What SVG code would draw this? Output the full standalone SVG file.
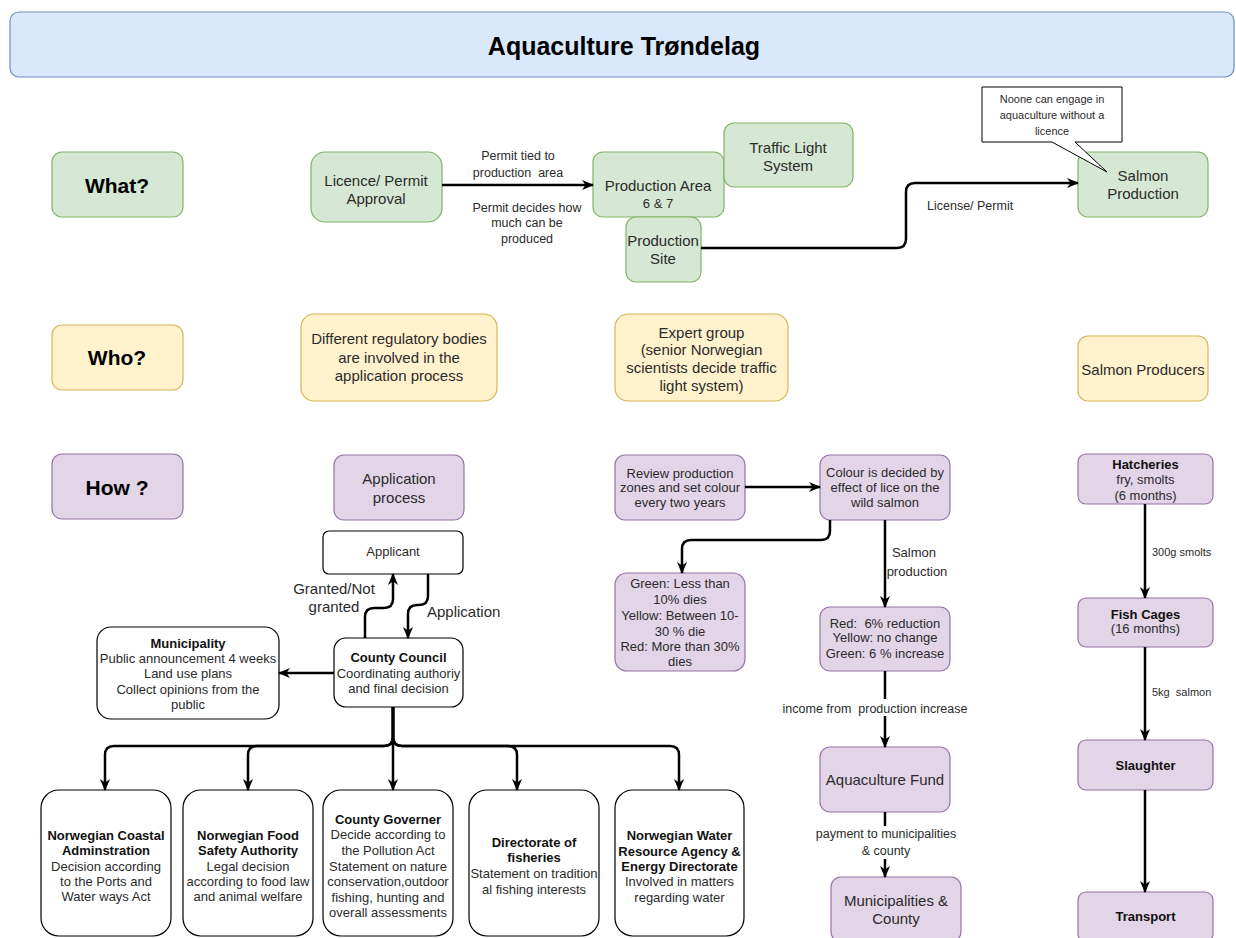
<svg xmlns="http://www.w3.org/2000/svg" width="1236" height="938" viewBox="0 0 1236 938">
<defs>
<marker id="arr" viewBox="0 0 12 12" refX="11" refY="6" markerWidth="12" markerHeight="12" markerUnits="userSpaceOnUse" orient="auto">
<path d="M0,1 L12,6 L0,11 L3.5,6 Z" fill="#000"/>
</marker>
<style>
text{font-family:"Liberation Sans",Arial,sans-serif;fill:#2b2b2b;text-anchor:middle}
.g{fill:#d5e8d4;stroke:#82b366;stroke-width:1.2}
.y{fill:#fff2cc;stroke:#d6b656;stroke-width:1.2}
.p{fill:#e1d5e7;stroke:#9673a6;stroke-width:1.2}
.w{fill:#fff;stroke:#000;stroke-width:1.2}
.t15{font-size:15px}
.t13{font-size:13px}
.t12{font-size:12.5px}
.t11{font-size:11px}
.b{font-weight:bold;fill:#111}
.h{font-size:21px;font-weight:bold;fill:#000}
.c{fill:none;stroke:#000;stroke-width:2.5}
.ca{fill:none;stroke:#000;stroke-width:2.5;marker-end:url(#arr)}
.s{text-anchor:start}
</style>
</defs>
<g id="title">
<rect x="10" y="12" width="1224" height="65" rx="9" fill="#dae8fc" stroke="#6c8ebf" stroke-width="1.2"/>
<text x="624" y="55" style="font-size:25px;font-weight:bold;fill:#000">Aquaculture Trøndelag</text>
</g>
<g id="what"><rect class="g" x="52" y="152" width="131" height="65" rx="10"/><text class="h" x="117" y="192.5">What?</text></g>
<g id="who"><rect class="y" x="52" y="325" width="131" height="65" rx="10"/><text class="h" x="117" y="365">Who?</text></g>
<g id="how"><rect class="p" x="52" y="454" width="131" height="65" rx="10"/><text class="h" x="117" y="494.5">How ?</text></g>

<g id="licence"><rect class="g" x="311" y="152" width="131" height="70" rx="14"/><text class="t15" x="376" y="185.5">Licence/ Permit</text><text class="t15" x="376" y="203.5">Approval</text></g>
<g id="prodarea"><rect class="g" x="593" y="152" width="131" height="65" rx="10"/><text class="t15" x="658" y="190.5">Production Area</text><text class="t13" x="658" y="207.5">6 &amp; 7</text></g>
<g id="traffic"><rect class="g" x="724" y="123" width="129" height="64" rx="10"/><text class="t15" x="788" y="152.5">Traffic Light</text><text class="t15" x="788" y="170.5">System</text></g>
<g id="prodsite"><rect class="g" x="626" y="217" width="75" height="65" rx="10"/><text class="t15" x="663" y="245.5">Production</text><text class="t15" x="663" y="263.5">Site</text></g>
<g id="salmonprod"><rect class="g" x="1078" y="152" width="130" height="65" rx="10"/><text class="t15" x="1143" y="180.5">Salmon</text><text class="t15" x="1143" y="198.5">Production</text></g>
<g id="callout"><path d="M982,87 H1122 V142 H1075 L1107,172 L1052,142 H982 Z" fill="#fff" stroke="#000" stroke-width="1"/><text class="t11" x="1052" y="103">Noone can engage in</text><text class="t11" x="1052" y="119">aquaculture without a</text><text class="t11" x="1052" y="135">licence</text></g>

<g id="regbodies"><rect class="y" x="301" y="314" width="196" height="87" rx="13"/><text class="t15" x="399" y="344">Different regulatory bodies</text><text class="t15" x="399" y="362.5">are involved in the</text><text class="t15" x="399" y="381">application process</text></g>
<g id="expert"><rect class="y" x="615" y="314" width="173" height="87" rx="13"/><text class="t15" x="701.5" y="337.5">Expert group</text><text class="t15" x="701.5" y="354.5">(senior Norwegian</text><text class="t15" x="701.5" y="372.5">scientists decide traffic</text><text class="t15" x="701.5" y="390.5">light system)</text></g>
<g id="producers"><rect class="y" x="1078" y="336" width="130" height="65" rx="10"/><text class="t15" x="1143" y="374.5">Salmon Producers</text></g>

<g id="appprocess"><rect class="p" x="334" y="455" width="130" height="65" rx="10"/><text class="t15" x="399" y="483.5">Application</text><text class="t15" x="399" y="502.5">process</text></g>
<g id="review"><rect class="p" x="615" y="455" width="130" height="65" rx="10"/><text class="t13" x="680" y="477.5">Review production</text><text class="t13" x="680" y="491.5">zones and set colour</text><text class="t13" x="680" y="506.5">every two years</text></g>
<g id="colour"><rect class="p" x="820" y="455" width="130" height="65" rx="10"/><text class="t13" x="885" y="476.5">Colour is decided by</text><text class="t13" x="885" y="491.5">effect of lice on the</text><text class="t13" x="885" y="506.5">wild salmon</text></g>
<g id="greenbox"><rect class="p" x="615" y="573" width="130" height="98" rx="12"/><text class="t13" x="680" y="587.5">Green: Less than</text><text class="t13" x="680" y="603.5">10% dies</text><text class="t13" x="680" y="619.5">Yellow: Between 10-</text><text class="t13" x="680" y="635.5">30 % die</text><text class="t13" x="680" y="650.5">Red: More than 30%</text><text class="t13" x="680" y="665.5">dies</text></g>
<g id="redbox"><rect class="p" x="820" y="607" width="130" height="64" rx="10"/><text class="t13" x="885" y="627.5" xml:space="preserve">Red:  6% reduction</text><text class="t13" x="885" y="641.5">Yellow: no change</text><text class="t13" x="885" y="657.5">Green: 6 % increase</text></g>
<g id="fund"><rect class="p" x="820" y="747" width="130" height="65" rx="10"/><text class="t15" x="885" y="784.5">Aquaculture Fund</text></g>
<g id="municipalities"><rect class="p" x="831" y="877" width="130" height="65" rx="10"/><text class="t15" x="896" y="905.5">Municipalities &amp;</text><text class="t15" x="896" y="923.5">County</text></g>

<g id="hatcheries"><rect class="p" x="1078" y="454" width="135" height="50" rx="8"/><text class="t13 b" x="1145.5" y="468.5">Hatcheries</text><text class="t13" x="1145.5" y="483.5">fry, smolts</text><text class="t13" x="1145.5" y="499.5">(6 months)</text></g>
<g id="cages"><rect class="p" x="1078" y="598" width="135" height="49" rx="8"/><text class="t13 b" x="1145.5" y="618.5">Fish Cages</text><text class="t13" x="1145.5" y="632.5">(16 months)</text></g>
<g id="slaughter"><rect class="p" x="1078" y="740" width="135" height="50" rx="8"/><text class="t13 b" x="1145.5" y="769.5">Slaughter</text></g>
<g id="transport"><rect class="p" x="1078" y="892" width="135" height="50" rx="8"/><text class="t13 b" x="1145.5" y="920.5">Transport</text></g>

<g id="applicant"><rect class="w" x="323" y="531" width="140" height="43" rx="6"/><text class="t13" x="393" y="556">Applicant</text></g>
<g id="council"><rect class="w" x="334" y="638" width="129" height="69" rx="12"/><text class="t13 b" x="398.5" y="661.5">County Council</text><text class="t13" x="398.5" y="677.5">Coordinating authoriy</text><text class="t13" x="398.5" y="692.5">and final decision</text></g>
<g id="municipality"><rect class="w" x="97" y="627" width="182" height="92" rx="14"/><text class="t13 b" x="188" y="647.5">Municipality</text><text class="t13" x="188" y="662.5">Public announcement 4 weeks</text><text class="t13" x="188" y="677.5">Land use plans</text><text class="t13" x="188" y="693.5">Collect opinions from the</text><text class="t13" x="188" y="708.5">public</text></g>

<g id="coastal"><rect class="w" x="41" y="790" width="130" height="146" rx="18"/><text class="t13 b" x="106" y="840">Norwegian Coastal</text><text class="t13 b" x="106" y="855">Adminstration</text><text class="t13" x="106" y="871">Decision according</text><text class="t13" x="106" y="886">to the Ports and</text><text class="t13" x="106" y="901">Water ways Act</text></g>
<g id="food"><rect class="w" x="183" y="790" width="130" height="146" rx="18"/><text class="t13 b" x="248" y="840">Norwegian Food</text><text class="t13 b" x="248" y="855">Safety Authority</text><text class="t13" x="248" y="871">Legal decision</text><text class="t13" x="248" y="886">according to food law</text><text class="t13" x="248" y="901">and animal welfare</text></g>
<g id="governer"><rect class="w" x="323" y="790" width="130" height="146" rx="18"/><text class="t13 b" x="388" y="823.5">County Governer</text><text class="t13" x="388" y="839">Decide according to</text><text class="t13" x="388" y="854.5">the Pollution Act</text><text class="t13" x="388" y="870.5">Statement on nature</text><text class="t13" x="388" y="885.5">conservation,outdoor</text><text class="t13" x="388" y="901.5">fishing, hunting and</text><text class="t13" x="388" y="916.5">overall assessments</text></g>
<g id="directorate"><rect class="w" x="469" y="790" width="130" height="146" rx="18"/><text class="t13 b" x="534" y="846.5">Directorate of</text><text class="t13 b" x="534" y="861.5">fisheries</text><text class="t13" x="534" y="877.5">Statement on tradition</text><text class="t13" x="534" y="893.5">al fishing interests</text></g>
<g id="water"><rect class="w" x="615" y="790" width="129" height="146" rx="18"/><text class="t13 b" x="679.5" y="839.5">Norwegian Water</text><text class="t13 b" x="679.5" y="855.5">Resource Agency &amp;</text><text class="t13 b" x="679.5" y="870.5">Energy Directorate</text><text class="t13" x="679.5" y="885.5">Involved in matters</text><text class="t13" x="679.5" y="901.5">regarding water</text></g>

<g id="connectors">
<path class="ca" d="M442,185 H593"/>
<text class="t12" x="518" y="159.5">Permit tied to</text>
<text class="t12" x="518" y="176.5" xml:space="preserve">production  area</text>
<text class="t12" x="527" y="211.5">Permit decides how</text>
<text class="t12" x="527" y="226.5">much can be</text>
<text class="t12" x="527" y="242.5">produced</text>

<path class="ca" d="M701,248 H897 Q906,248 906,239 V192 Q906,183 915,183 H1078"/>
<text class="t12 s" x="927" y="209.5">License/ Permit</text>

<path class="ca" d="M745,487 H820"/>
<path class="ca" d="M830,520 V531 Q830,540 821,540 H691 Q682,540 682,549 V573"/>
<path class="ca" d="M885,520 V607"/>
<text class="t13" x="914" y="556.5">Salmon</text>
<text class="t13" x="917" y="575.5">production</text>

<path class="ca" d="M885,671 V747"/>
<rect x="779" y="699" width="192" height="17" fill="#fff"/>
<text class="t12" x="875" y="712.5" xml:space="preserve">income from  production increase</text>

<path class="ca" d="M885,812 V877"/>
<rect x="811" y="826" width="150" height="33" fill="#fff"/>
<text class="t12" x="886" y="837.5">payment to municipalities</text>
<text class="t12" x="886" y="854.5">&amp; county</text>

<path class="ca" d="M1145,504 V598"/>
<text class="t11 s" x="1152" y="556">300g smolts</text>
<path class="ca" d="M1145,647 V740"/>
<text class="t11 s" x="1152" y="696" xml:space="preserve">5kg  salmon</text>
<path class="ca" d="M1145,790 V892"/>

<path class="ca" d="M428,574 V596 Q428,605 419,605 H417 Q408,605 408,614 V638"/>
<text class="t15 s" x="427" y="617">Application</text>
<path class="ca" d="M365,638 V617 Q365,608 374,608 H384 Q393,608 393,599 V574"/>
<text class="t15" x="334" y="594">Granted/Not</text>
<text class="t15" x="334" y="612">granted</text>

<path class="ca" d="M334,673 H279"/>

<path class="ca" d="M393,707 V737 Q393,746 384,746 H114 Q105,746 105,755 V790"/>
<path class="ca" d="M393,707 V737 Q393,746 384,746 H257 Q248,746 248,755 V790"/>
<path class="ca" d="M393,707 V790"/>
<path class="ca" d="M393,707 V737 Q393,746 402,746 H508 Q517,746 517,755 V790"/>
<path class="ca" d="M393,707 V737 Q393,746 402,746 H670 Q679,746 679,755 V790"/>
</g>
</svg>
